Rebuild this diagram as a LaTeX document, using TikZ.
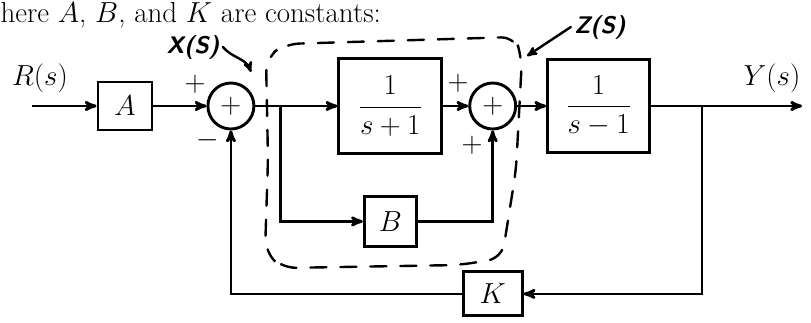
\RequirePackage{fix-cm}
\documentclass[tikz,border=0pt]{standalone}
\usepackage{amsmath}
\usetikzlibrary{arrows,positioning}

\tikzset{
  every node/.style={font=\fontsize{29}{34}\selectfont},
  block/.style={draw, line width=2.9pt, inner sep=0pt},
  summer/.style={draw, circle, line width=2.9pt, minimum size=46pt, inner sep=0pt},
  sig/.style={line width=2.8pt, ->, >=stealth'},
  pen/.style={line width=2.4pt, line cap=round},
  handtext/.style={font=\fontsize{24}{28}\selectfont\sffamily\bfseries\slshape},
}

\begin{document}
\begin{tikzpicture}[x=1pt,y=-1pt]
   \useasboundingbox (0,0) rectangle (811,322);
   \node (hdr) [anchor=base west] at (-3,22) {here $A$, $B$, and $K$ are constants:};
   \node (a) [block, minimum width=54pt, minimum height=48pt] at (125,106) {$A$};
   \node (s1) [summer, right=53pt of a] {$+$};
   \node (b1) [block, minimum width=103pt, minimum height=95pt, right=82pt of s1] {$\dfrac{1}{s+1}$};
   \node (s2) [summer, right=25pt of b1] {$+$};
   \node (b2) [block, minimum width=102pt, minimum height=93pt, right=29pt of s2] {$\dfrac{1}{s-1}$};
   \node (bb) [block, minimum width=52pt, minimum height=50pt, below=40pt of b1] {$B$};
   \node (k) [block, minimum width=59pt, minimum height=44pt, below=140pt of s2] {$K$};
   \coordinate [left=65pt of a] (in);
   \coordinate [right=151pt of b2] (out);
   \coordinate [right=25pt of s1] (br1);
   \coordinate [right=51pt of b2] (br2);
   \node (rs) at (40,78) {$R(s)$};
   \node (ys) at (772,78) {$Y(s)$};
   \node (p1) at (195,84) {$+$};
   \node (m1) at (208,140) {$-$};
   \node (p2) at (458,83) {$+$};
   \node (p3) at (472,145) {$+$};
   \draw[sig] (in) -- (a);
   \draw[sig] (a) -- (s1);
   \draw[sig] (s1) -- (b1);
   \draw[sig] (b1) -- (s2);
   \draw[sig] (s2) -- (b2);
   \draw[sig] (b2) -- (out);
   \draw[sig] (br1) |- (bb);
   \draw[sig] (bb) -| (s2);
   \draw[sig] (br2) |- (k);
   \draw[sig] (k) -| (s1);
   % pencil notes
   \node (xl) [handtext] at (193,47) {X(S)};
   \node (zl) [handtext] at (600,27) {Z(S)};
   \coordinate (xtip) at (251,72);
   \coordinate (ztip) at (527,56);
   \draw[pen, ->, >=stealth'] (xl.east) to[out=-50, in=110] (xtip);
   \draw[pen, ->, >=stealth'] (zl.west) -- (ztip);
   \draw[pen, dash pattern=on 16pt off 14pt, rounded corners=14pt]
      (268,160) -- (266,58) -- (285,44) -- (515,37) -- (522,58)
      -- (516,170) -- (502,258) -- (460,265) -- (282,268) -- (265,252) -- cycle;
\end{tikzpicture}
\end{document}
